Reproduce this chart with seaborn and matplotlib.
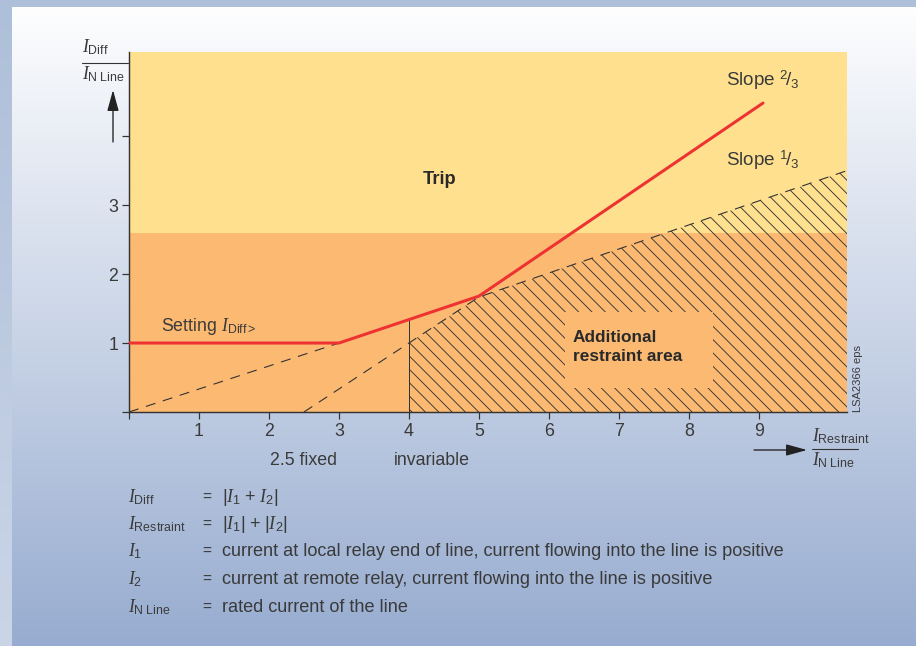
import numpy as np
import matplotlib
matplotlib.use("Agg")
import matplotlib.pyplot as plt
import matplotlib.colors as mcolors
from matplotlib.patches import Rectangle, FancyArrowPatch
import seaborn as sns

# Chart values
x_max, y_max = 10.26, 5.22
trip_boundary = 2.59

char_x = [0, 3, 5, 9.06]          # red characteristic
char_y = [1, 1, 1.68, 4.48]
slope_low_x = [0, 3]              # dashed slope 1/3 from origin
slope_low_y = [0, 1]
restraint_x = [2.5, 5, 10.26]     # dashed boundary of added restraint
restraint_y = [0, 1.667, 3.5]
invariable_x = 4

box_x = [6.23, 8.34]              # unhatched label box
box_y = [0.35, 1.45]

x_ticks = list(range(0, 10))
x_tick_labels = [""] + [str(i) for i in range(1, 10)]
y_ticks = [0, 1, 2, 3, 4]
y_tick_labels = ["", "1", "2", "3", ""]

legend_symbols = [r"$I_{\mathrm{Diff}}$", r"$I_{\mathrm{Restraint}}$",
                  r"$I_{\mathrm{1}}$", r"$I_{\mathrm{2}}$", r"$I_{\mathrm{N\ Line}}$"]
legend_texts = [r"$|I_{\mathrm{1}}\ \mathrm{+}\ I_{\mathrm{2}}|$",
                r"$|I_{\mathrm{1}}|\ \mathrm{+}\ |I_{\mathrm{2}}|$",
                "current at local relay end of line, current flowing into the line is positive",
                "current at remote relay, current flowing into the line is positive",
                "rated current of the line"]

# Style
sns.set_style("ticks")
plt.rcParams["font.family"] = ["Liberation Sans", "DejaVu Sans"]
plt.rcParams["mathtext.fontset"] = "custom"
plt.rcParams["mathtext.rm"] = "Liberation Sans"
plt.rcParams["mathtext.it"] = "Liberation Serif:italic"
plt.rcParams["mathtext.bf"] = "Liberation Sans:bold"
plt.rcParams["hatch.linewidth"] = 0.8

YELLOW = "#ffe08e"
ORANGE = "#fbb972"
RED = "#ee3131"
DARK = "#333333"
TXT = "#3a3a3a"

W, H, DPI = 916, 646, 80
fig = plt.figure(figsize=(W / DPI, H / DPI), dpi=DPI)


def px(x, y):
    return (x / W, 1 - y / H)


# Background panel with gradient
rows = np.linspace(0, 1, H)[:, None]
top_c = np.array(mcolors.to_rgb("#ffffff"))
bot_c = np.array(mcolors.to_rgb("#97acd0"))
bg = np.repeat((top_c + (bot_c - top_c) * rows)[:, None, :], W, axis=1)
l_top = np.array(mcolors.to_rgb("#aebfd9"))
l_bot = np.array(mcolors.to_rgb("#cad5e7"))
bg[:, :12] = (l_top + (l_bot - l_top) * rows)[:, None, :]
bg[:7, :] = l_top
bg_ax = fig.add_axes([0, 0, 1, 1], zorder=-10)
bg_ax.imshow(bg, aspect="auto")
bg_ax.axis("off")

# Main axes
ax = fig.add_axes([129 / W, 1 - 412 / H, 718 / W, 360 / H])
ax.set_facecolor(YELLOW)
ax.axhspan(0, trip_boundary, color=ORANGE, lw=0, zorder=0)

# Hatched additional restraint area
hatch_top = np.interp(invariable_x, restraint_x, restraint_y)
hx = [invariable_x, invariable_x] + [v for v in restraint_x if v > invariable_x] + [x_max]
hy = [0, hatch_top] + [v for v, u in zip(restraint_y, restraint_x) if u > invariable_x] + [0]
ax.fill(hx, hy, facecolor="none", edgecolor=DARK, hatch="\\\\", lw=0, zorder=1)
ax.add_patch(Rectangle((box_x[0], box_y[0]), box_x[1] - box_x[0], box_y[1] - box_y[0],
                       facecolor=ORANGE, lw=0, zorder=2))

# invariable vertical line up to characteristic
ax.vlines(invariable_x, 0, np.interp(invariable_x, char_x, char_y), color=DARK, lw=0.9, zorder=2)

sns.lineplot(x=slope_low_x, y=slope_low_y, ax=ax, color=DARK, lw=1.0,
             linestyle=(0, (9, 7)), zorder=3)
sns.lineplot(x=restraint_x, y=restraint_y, ax=ax, color=DARK, lw=1.0,
             linestyle=(0, (9, 7)), zorder=3)
sns.lineplot(x=char_x, y=char_y, ax=ax, color=RED, lw=2.7, zorder=4)

ax.set_xlim(0, x_max)
ax.set_ylim(0, y_max)
ax.set_xticks(x_ticks)
ax.set_xticklabels(x_tick_labels)
ax.set_yticks(y_ticks)
ax.set_yticklabels(y_tick_labels)
ax.tick_params(length=6.5, width=1.1, color=DARK, labelsize=16, labelcolor=TXT, pad=3)
sns.despine(ax=ax)
for s in ["left", "bottom"]:
    ax.spines[s].set_color(DARK)
    ax.spines[s].set_linewidth(1.3)
ax.set_xlabel("")
ax.set_ylabel("")

# Labels inside plot
ax.text(0.457, 1.18, r"Setting $I_{\mathrm{Diff>}}$", fontsize=16, color=TXT, va="baseline")
ax.text(4.44, 3.30, "Trip", fontsize=16.5, fontweight="bold", color="#2a2a2a",
        ha="center", va="baseline")
ax.text(8.53, 4.72, r"Slope $^{\mathrm{2}}\!/_{\mathrm{3}}$", fontsize=17, color=TXT, va="baseline")
ax.text(8.53, 3.57, r"Slope $^{\mathrm{1}}\!/_{\mathrm{3}}$", fontsize=17, color=TXT, va="baseline")
ax.text(6.34, 0.94, "Additional\nrestraint area", fontsize=15.5, fontweight="bold",
        color="#2a2a2a", va="center", linespacing=1.38, zorder=5)
ax.text(2.5, -0.70, "2.5 fixed", fontsize=16, color=TXT, ha="center", va="center", clip_on=False)
ax.text(4.33, -0.70, "invariable", fontsize=16, color=TXT, ha="center", va="center", clip_on=False)

# Axis labels as fractions with arrows
fig.text(*px(82, 47), r"$I_{\mathrm{Diff}}$", fontsize=16, color=TXT, va="center")
fig.add_artist(plt.Line2D([82 / W, 128 / W], [1 - 63 / H] * 2, color=DARK, lw=1.0))
fig.text(*px(82, 74), r"$I_{\mathrm{N\ Line}}$", fontsize=16, color=TXT, va="center")
fig.text(*px(812, 436), r"$I_{\mathrm{Restraint}}$", fontsize=16, color=TXT, va="center")
fig.add_artist(plt.Line2D([812 / W, 858 / W], [1 - 449 / H] * 2, color=DARK, lw=1.0))
fig.text(*px(812, 460), r"$I_{\mathrm{N\ Line}}$", fontsize=16, color=TXT, va="center")

arrow = dict(arrowstyle="-|>,head_length=0.8,head_width=0.22", color="#222222",
             lw=1.2, mutation_scale=20, shrinkA=0, shrinkB=0)
fig.add_artist(FancyArrowPatch(px(113, 142), px(113, 90), transform=fig.transFigure, **arrow))
fig.add_artist(FancyArrowPatch(px(754, 450), px(807, 450), transform=fig.transFigure, **arrow))

fig.text(*px(858, 378), "LSA2366 eps", fontsize=10, color=TXT, rotation=90,
         ha="center", va="center")

# Definitions below chart
baselines = [502, 529, 556, 584, 612]
for sym, txt, b in zip(legend_symbols, legend_texts, baselines):
    fig.text(*px(128, b), sym, fontsize=16, color=TXT, va="baseline")
    fig.text(*px(202, b), "=", fontsize=14, color=TXT, va="baseline")
    fig.text(*px(222, b), txt, fontsize=16.3, color=TXT, va="baseline")

fig.savefig("out.png", dpi=DPI)
